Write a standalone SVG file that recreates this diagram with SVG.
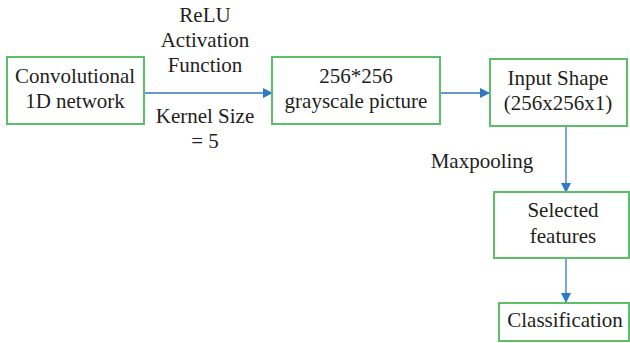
<svg xmlns="http://www.w3.org/2000/svg" width="630" height="343" viewBox="0 0 630 343">
<style>
.box{fill:#fff;stroke:#5cbf68;stroke-width:2}
.t{font-family:"Liberation Serif",serif;font-size:21px;fill:#231f20;text-anchor:middle}
.c{stroke:#2f78c4;stroke-width:1.3;fill:none}
</style>
<defs>
<marker id="ah" markerWidth="10" markerHeight="10" refX="9" refY="5" orient="auto" markerUnits="userSpaceOnUse">
<path d="M0,0 L10,5 L0,10 Z" fill="#2f78c4"/>
</marker>
</defs>
<rect width="630" height="343" fill="#fff"/>
<g id="connectors">
<line class="c" x1="144" y1="93" x2="272" y2="93" marker-end="url(#ah)"/>
<line class="c" x1="440" y1="93" x2="489" y2="93" marker-end="url(#ah)"/>
<line class="c" x1="566" y1="126" x2="566" y2="192" marker-end="url(#ah)"/>
<line class="c" x1="566" y1="258" x2="566" y2="302" marker-end="url(#ah)"/>
<text class="t" x="205" y="22">ReLU</text>
<text class="t" x="205" y="47">Activation</text>
<text class="t" x="205" y="72">Function</text>
<text class="t" x="205" y="123">Kernel Size</text>
<text class="t" x="205" y="148">= 5</text>
<text class="t" x="482" y="168">Maxpooling</text>
</g>
<g id="n1">
<rect class="box" x="7" y="57" width="137" height="67"/>
<text class="t" x="75" y="83">Convolutional</text>
<text class="t" x="75" y="108">1D network</text>
</g>
<g id="n2">
<rect class="box" x="272" y="57" width="168" height="67"/>
<text class="t" x="356" y="83">256*256</text>
<text class="t" x="356" y="108">grayscale picture</text>
</g>
<g id="n3">
<rect class="box" x="490" y="59" width="137" height="67"/>
<text class="t" x="558" y="85">Input Shape</text>
<text class="t" x="558" y="110">(256x256x1)</text>
</g>
<g id="n4">
<rect class="box" x="494" y="192" width="135" height="66"/>
<text class="t" x="563" y="217">Selected</text>
<text class="t" x="563" y="243">features</text>
</g>
<g id="n5">
<rect class="box" x="499" y="303" width="130" height="38"/>
<text class="t" x="565" y="327">Classification</text>
</g>
</svg>
